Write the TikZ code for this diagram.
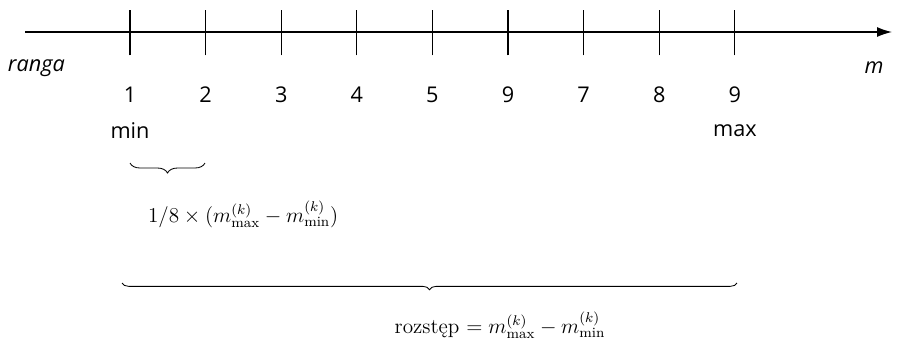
\documentclass[tikz,border=0pt]{standalone}
\usepackage{fontspec}
\newfontfamily\labelfont{Open Sans}
\usetikzlibrary{arrows.meta,decorations.pathreplacing}
\begin{document}
\begin{tikzpicture}[x=0.6pt,y=-0.6pt]
    \tikzstyle{lbl}=[font=\labelfont\fontsize{13}{15}\selectfont, inner sep=1pt]
    \tikzstyle{brc}=[decorate, line width=0.5pt]
    \tikzstyle{frm}=[font=\large, inner sep=1pt, scale=1.06, transform shape]
    \useasboundingbox (0,0) rectangle (900,351);
    % axis with ticks
    \coordinate (start) at (25,32);
    \coordinate (end) at (892,32);
    \draw[line width=0.8pt, -{Latex[length=9pt,width=6pt]}] (start) -- (end);
    \foreach \v [count=\i] in {1,2,3,4,5,9,7,8,9} {
      \coordinate (t\i) at ({130+75.6*(\i-1)},32);
      \draw[line width=0.7pt] ([yshift=-14pt]t\i) -- ([yshift=13pt]t\i);
      \node[lbl] (n\i) at ({130+75.6*(\i-1)},95) {\v};
    }
    \node[lbl, anchor=west] (ranga) at (6,68) {\itshape ranga};
    \node[lbl] (mlab) at (874,68) {\itshape m};
    \node[lbl] (min) at (130,131) {min};
    \node[lbl] (max) at (735,131) {max};
    % small brace: one step
    \coordinate (s1) at (130,163);
    \coordinate (s2) at (205,163);
    \draw[brc, decoration={brace, mirror, amplitude=6pt}] (s1) -- (s2);
    \node[frm, anchor=west] (step) at (146,214)
      {$1/8 \times (m^{(k)}_{\mathrm{max}} - m^{(k)}_{\mathrm{min}})$};
    % big brace: whole range
    \coordinate (b1) at (122,283);
    \coordinate (b2) at (737,283);
    \draw[brc, decoration={brace, mirror, amplitude=4pt}] (b1) -- (b2);
    \node[frm] (range) at (500,325)
      {rozstęp $= m^{(k)}_{\mathrm{max}} - m^{(k)}_{\mathrm{min}}$};
  \end{tikzpicture}
\end{document}
